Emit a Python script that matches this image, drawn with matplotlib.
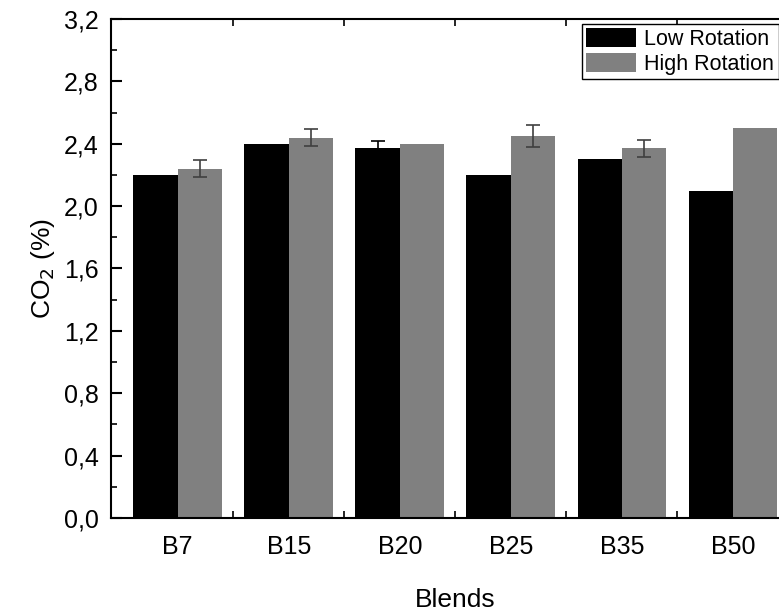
import matplotlib
matplotlib.use("Agg")
import matplotlib.pyplot as plt
import numpy as np
from matplotlib.ticker import MultipleLocator, FixedLocator, FuncFormatter
from matplotlib.patches import Patch

plt.rcParams['font.family'] = ['Liberation Sans', 'DejaVu Sans']

blends = ['B7', 'B15', 'B20', 'B25', 'B35', 'B50']
low_rot = [2.20, 2.40, 2.37, 2.20, 2.30, 2.10]
low_err = [0, 0, 0.05, 0, 0, 0]
high_rot = [2.24, 2.44, 2.40, 2.45, 2.37, 2.50]
high_err = [0.055, 0.055, 0, 0.07, 0.055, 0]

fig = plt.figure(figsize=(7.79, 6.13), dpi=100)
ax = fig.add_axes([0.1425, 0.155, 0.884, 0.814])

x = np.arange(len(blends))
w = 0.4
ax.bar(x - w / 2, low_rot, w, color='black')
ax.bar(x + w / 2, high_rot, w, color='#808080')

# error bars only where the reference shows them
for xs, vals, errs, col in [(x - w / 2, low_rot, low_err, 'black'),
                            (x + w / 2, high_rot, high_err, '#404040')]:
    idx = [i for i, e in enumerate(errs) if e > 0]
    ax.errorbar(xs[idx], np.array(vals)[idx], yerr=np.array(errs)[idx], fmt='none',
                ecolor=col, capsize=5, elinewidth=1.2, capthick=1.2)

ax.set_xlim(-0.6, 5.6)
ax.set_ylim(0, 3.2)
ax.set_xticks(x)
ax.set_xticklabels(blends)
ax.xaxis.set_minor_locator(FixedLocator(x[:-1] + 0.5))
ax.yaxis.set_major_locator(MultipleLocator(0.4))
ax.yaxis.set_minor_locator(MultipleLocator(0.2))
ax.yaxis.set_major_formatter(FuncFormatter(lambda v, p: f'{v:.1f}'.replace('.', ',')))

ax.tick_params(axis='x', which='major', length=0, labelsize=18, pad=12)
ax.tick_params(axis='x', which='minor', direction='in', length=5, width=1.2, top=True)
ax.tick_params(axis='y', which='major', direction='in', length=8, width=1.5, labelsize=18, pad=9)
ax.tick_params(axis='y', which='minor', direction='in', length=4, width=1.2)
for s in ax.spines.values():
    s.set_linewidth(1.5)

ax.set_ylabel('CO$_2$ (%)', fontsize=19, labelpad=5)
ax.set_xlabel('Blends', fontsize=19, labelpad=21)

handles = [Patch(facecolor='black', label='Low Rotation'),
           Patch(facecolor='#808080', label='High Rotation')]
leg = fig.legend(handles=handles, loc='upper left', bbox_to_anchor=(582 / 779, 1 - 24 / 613),
                 fontsize=15.5, fancybox=False, edgecolor='black', framealpha=1,
                 handlelength=2.3, handleheight=0.95, borderpad=0.2, labelspacing=0.15,
                 handletextpad=0.4, borderaxespad=0)
leg.get_frame().set_linewidth(1.0)

fig.savefig('out.png', dpi=100)
